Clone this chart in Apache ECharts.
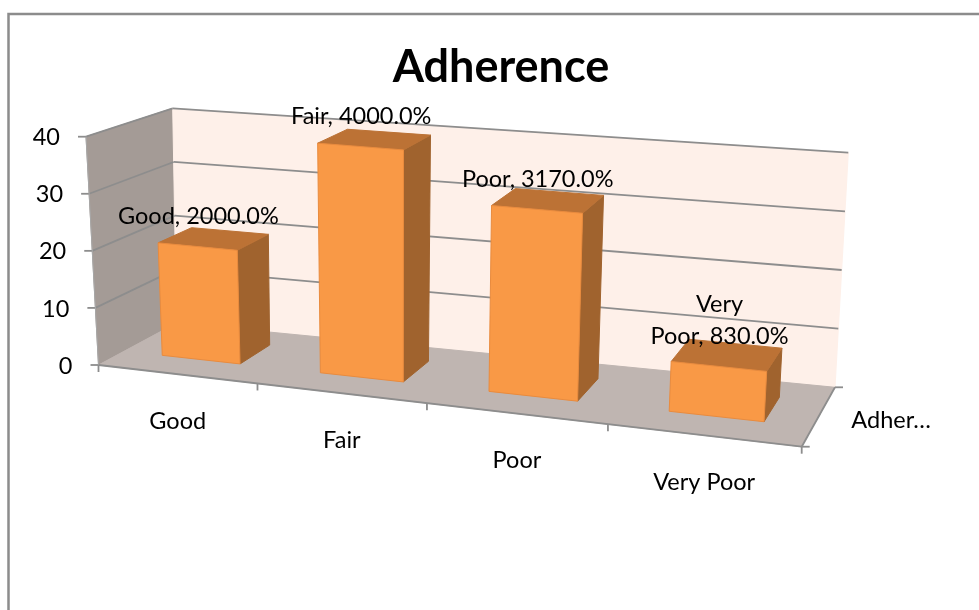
<!DOCTYPE html>
<html>
<head>
<meta charset="utf-8">
<title>Adherence</title>
<script src="https://cdn.jsdelivr.net/npm/echarts@6/dist/echarts.min.js"></script>
<style>
  html, body { margin: 0; padding: 0; background: #fff; }
  #chart { width: 979px; height: 610px; }
</style>
</head>
<body>
<div id="chart"></div>
<script>
// chart values
var categories = ['Good', 'Fair', 'Poor', 'Very Poor'];
var adherence = [20, 40, 31.7, 8.3];
var yTicks = [0, 10, 20, 30, 40];
var seriesName = 'Adher…';

// hidden cartesian grid, used as the scale for everything below
var GRID = { left: 99, top: 137, width: 703, height: 228 };

// corners of the 3d box on screen
var BOX = {
  flb: [98.5, 365], frb: [801.7, 446.7], blb: [176.5, 323], brb: [835, 387.3],
  flt: [86, 136.7], frt: [817, 198], blt: [172.7, 108.3], brt: [848.3, 152.7]
};
var FORESHORTEN = 1.141; // the left end of the x axis is further from the eye
var BAR_FRONT = 0.33, BAR_BACK = 0.75;
var TEXT_FONT = '23.5px Lato';

function mix(a, b, t) {
  return [a[0] + (b[0] - a[0]) * t, a[1] + (b[1] - a[1]) * t];
}

// u, v in 0..1 along x and value, d in 0..1 going into the picture
function project(u, v, d) {
  var s = u / (u + (1 - u) * FORESHORTEN);
  var bottom = mix(mix(BOX.flb, BOX.frb, s), mix(BOX.blb, BOX.brb, s), d);
  var top = mix(mix(BOX.flt, BOX.frt, s), mix(BOX.blt, BOX.brt, s), d);
  return mix(bottom, top, v);
}

function toU(px) { return (px - GRID.left) / GRID.width; }
function toV(py) { return (GRID.top + GRID.height - py) / GRID.height; }

function poly(points, fill, stroke) {
  return {
    type: 'polygon',
    shape: { points: points },
    style: { fill: fill, stroke: stroke || fill, lineWidth: 1 }
  };
}

function seg(a, b, color, width) {
  return {
    type: 'line',
    shape: { x1: a[0], y1: a[1], x2: b[0], y2: b[1] },
    style: { stroke: color, lineWidth: width || 1.8 }
  };
}

function label(text, x, y, align) {
  return {
    type: 'text',
    style: {
      text: text,
      x: x,
      y: y,
      align: align || 'center',
      verticalAlign: 'middle',
      fill: '#000',
      font: TEXT_FONT,
      lineHeight: 32
    }
  };
}

// walls, floor, gridlines, axis ticks and axis labels
function renderBox(params, api) {
  var lineColor = '#8d8d8d';
  var kids = [
    poly([project(0, 0, 0), project(0, 1, 0), project(0, 1, 1), project(0, 0, 1)], '#a49b96'),
    poly([project(0, 0, 1), project(1, 0, 1), project(1, 1, 1), project(0, 1, 1)], '#fef0e9'),
    poly([project(0, 0, 0), project(1, 0, 0), project(1, 0, 1), project(0, 0, 1)], '#bfb5b1')
  ];
  yTicks.forEach(function (tick) {
    var v = toV(api.coord([0, tick])[1]);
    if (tick > 0) {
      kids.push(seg(project(0, v, 0), project(0, v, 1), lineColor));
      kids.push(seg(project(0, v, 1), project(1, v, 1), lineColor));
    }
    var p = project(0, v, 0);
    kids.push(seg([p[0] - 8, p[1]], p, lineColor));
    kids.push(label(String(tick), p[0] - 26, p[1] + 1, 'right'));
  });
  kids.push(seg(project(0, 0, 0), project(0, 1, 0), '#a8a8a8', 1));
  kids.push(seg(project(0, 0, 0), project(1, 0, 0), lineColor));
  kids.push(seg(project(1, 0, 0), project(1, 0, 1), lineColor));
  var band = api.size([1, 0])[0];
  categories.forEach(function (name, i) {
    var cx = api.coord([i, 0])[0];
    var edge = project(toU(cx), 0, 0);
    kids.push(label(name, edge[0] + 1, edge[1] + 47));
    var tickAt = project(toU(cx - band / 2), 0, 0);
    kids.push(seg(tickAt, [tickAt[0], tickAt[1] + 7], lineColor));
  });
  var last = project(1, 0, 0);
  kids.push(seg(last, [last[0], last[1] + 7], lineColor));
  kids.push(seg(last, [last[0] + 8, last[1]], lineColor));
  var lastBack = project(1, 0, 1);
  kids.push(seg(lastBack, [lastBack[0] + 8, lastBack[1]], lineColor));
  var side = project(1, 0, 0.5);
  kids.push(label(seriesName, side[0] + 33, side[1] + 3, 'left'));
  return { type: 'group', children: kids };
}

function renderBar(params, api) {
  var i = api.value(0);
  var value = api.value(1);
  var c = api.coord([i, value]);
  var half = api.size([1, 0])[0] * 0.25;
  var u0 = toU(c[0] - half), u1 = toU(c[0] + half), v = toV(c[1]);
  var text = categories[i] + ', ' + (value * 100).toFixed(1) + '%';
  text = text.replace('Very ', 'Very\n');
  var anchor = project(toU(c[0]), v, BAR_FRONT);
  return {
    type: 'group',
    children: [
      poly([project(u1, 0, BAR_FRONT), project(u1, v, BAR_FRONT), project(u1, v, BAR_BACK), project(u1, 0, BAR_BACK)], '#a0632e'),
      poly([project(u0, v, BAR_FRONT), project(u1, v, BAR_FRONT), project(u1, v, BAR_BACK), project(u0, v, BAR_BACK)], '#bc7235'),
      poly([project(u0, 0, BAR_FRONT), project(u1, 0, BAR_FRONT), project(u1, v, BAR_FRONT), project(u0, v, BAR_FRONT)], '#f99946', '#e98b3e'),
      {
        type: 'text',
        style: {
          text: text,
          x: anchor[0] + 1,
          y: anchor[1] - 14,
          align: 'center',
          verticalAlign: 'bottom',
          fill: '#000',
          font: TEXT_FONT,
          lineHeight: 32
        }
      }
    ]
  };
}

var myChart = echarts.init(document.getElementById('chart'), null, { renderer: 'canvas' });
myChart.setOption({
  animation: false,
  backgroundColor: '#fff',
  title: {
    text: 'Adherence',
    left: 496,
    top: 40,
    textAlign: 'center',
    textStyle: { fontFamily: 'Lato', fontWeight: 'bold', fontSize: 45, color: '#000' }
  },
  graphic: [{
    type: 'rect',
    silent: true,
    shape: { x: 8.5, y: 14, width: 1100, height: 1000 },
    style: { fill: 'none', stroke: '#8c8c8c', lineWidth: 2.5 }
  }],
  grid: GRID,
  xAxis: { type: 'category', data: categories, show: false },
  yAxis: { type: 'value', min: 0, max: 40, interval: 10, show: false },
  series: [
    {
      type: 'custom',
      silent: true,
      clip: false,
      data: [[0, 0]],
      renderItem: renderBox
    },
    {
      type: 'custom',
      name: 'Adherence',
      silent: true,
      clip: false,
      encode: { x: 0, y: 1 },
      data: adherence.map(function (v, i) { return [i, v]; }),
      renderItem: renderBar
    }
  ]
});
</script>
</body>
</html>
